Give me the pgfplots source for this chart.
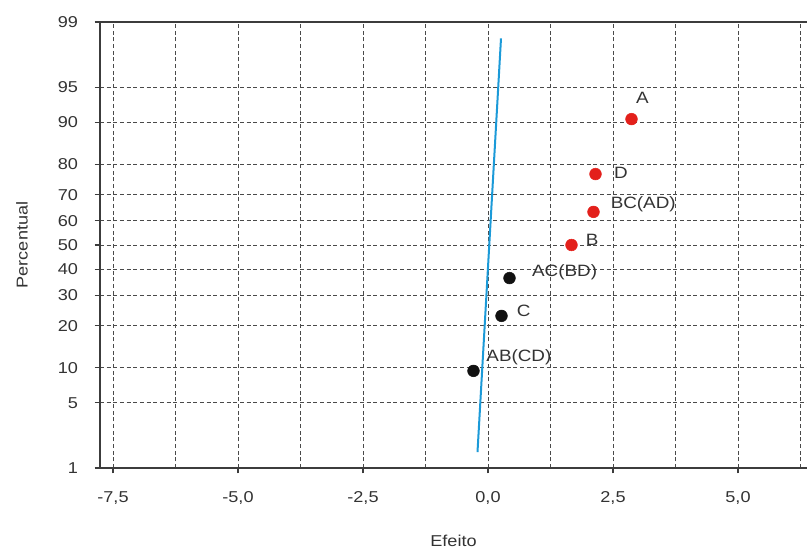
\documentclass[border=0pt]{standalone}
\usepackage{fontspec}
\setmainfont{Liberation Sans}[FakeStretch=1.15]
\usepackage{pgfplots}
\pgfplotsset{compat=1.18}

\definecolor{dotred}{HTML}{E3201B}
\definecolor{dotblack}{HTML}{111111}
\definecolor{fitblue}{HTML}{1B9AD8}
\definecolor{txt}{HTML}{333333}
\definecolor{axisc}{HTML}{3C3C3C}
\definecolor{gridc}{HTML}{4A4A4A}

\begin{document}
\begin{tikzpicture}[lbl/.style={text=txt, inner sep=0pt, font=\fontsize{12.3}{14}\selectfont}]
% Normal probability plot: y holds the standard normal quantile of the
% plotting position (i-0.3)/(n+0.4), labelled in percent.
\begin{axis}[
  name=ax,
  scale only axis,
  width=530.25pt, height=334.5pt,
  xmin=-7.76, xmax=6.38,
  ymin=-2.3263, ymax=2.3263,
  axis lines*=left,
  axis line style={draw=axisc, line width=1.5pt},
  xtick={-7.5,-5,-2.5,0,2.5,5},
  xticklabels={{-7,5},{-5,0},{-2,5},{0,0},{2,5},{5,0}},
  minor xtick={-6.25,-3.75,-1.25,1.25,3.75,6.25},
  ytick={-2.3263,-1.6449,-1.2816,-0.8416,-0.5244,-0.2533,0,0.2533,0.5244,0.8416,1.2816,1.6449,2.3263},
  yticklabels={1,5,10,20,30,40,50,60,70,80,90,95,99},
  tick align=outside,
  major tick length=4pt, minor tick length=0pt,
  tick style={draw=axisc, line width=0.8pt},
  grid=both,
  grid style={draw=gridc, line width=0.65pt, dash pattern=on 3pt off 2pt},
  ticklabel style={font=\fontsize{11.8}{13}\selectfont, text=txt},
  yticklabel style={anchor=east, xshift=-9pt},
  xticklabel style={anchor=north, yshift=-10pt},
]
% fitted normal line
\addplot[fitblue, line width=1.5pt] coordinates {(-0.21,-2.16) (0.26,2.155)};
% effects that fall off the line
\addplot[only marks, mark=*, mark size=4.4pt, dotred, mark options={draw=dotred, fill=dotred}]
  coordinates {(1.67,0) (2.11,0.3452) (2.15,0.7398) (2.87,1.3134)};
% effects close to the line
\addplot[only marks, mark=*, mark size=4.4pt, dotblack, mark options={draw=dotblack, fill=dotblack}]
  coordinates {(-0.29,-1.3134) (0.27,-0.7398) (0.43,-0.3452)};

\node[lbl, anchor=center, xshift=8.1pt, yshift=15.6pt] at (axis cs:2.87,1.3134) {A};
\node[lbl, anchor=west, xshift=13.7pt, yshift=0.75pt] at (axis cs:2.15,0.7398) {D};
\node[lbl, anchor=west, xshift=12.75pt, yshift=5.8pt] at (axis cs:2.11,0.3452) {BC(AD)};
\node[lbl, anchor=west, xshift=10.5pt, yshift=3.75pt] at (axis cs:1.67,0) {B};
\node[lbl, anchor=west, xshift=16.8pt, yshift=4.5pt] at (axis cs:0.43,-0.3452) {AC(BD)};
\node[lbl, anchor=west, xshift=11.25pt, yshift=3.75pt] at (axis cs:0.27,-0.7398) {C};
\node[lbl, anchor=west, xshift=9.5pt, yshift=10pt] at (axis cs:-0.29,-1.3134) {AB(CD)};

% top frame line
\draw[axisc, line width=1.5pt] (rel axis cs:0,1) -- (rel axis cs:1,1);
\end{axis}

\node[text=txt, font=\fontsize{11.8}{13}\selectfont] at ([yshift=-54.5pt]ax.south) {Efeito};
\node[text=txt, font=\fontsize{11.8}{13}\selectfont, rotate=90] at ([xshift=-58.5pt]ax.west) {Percentual};

\pgfresetboundingbox
\path ([xshift=-75pt,yshift=-60pt]ax.south west) rectangle ([yshift=16.5pt]ax.north east);
\end{tikzpicture}
\end{document}
